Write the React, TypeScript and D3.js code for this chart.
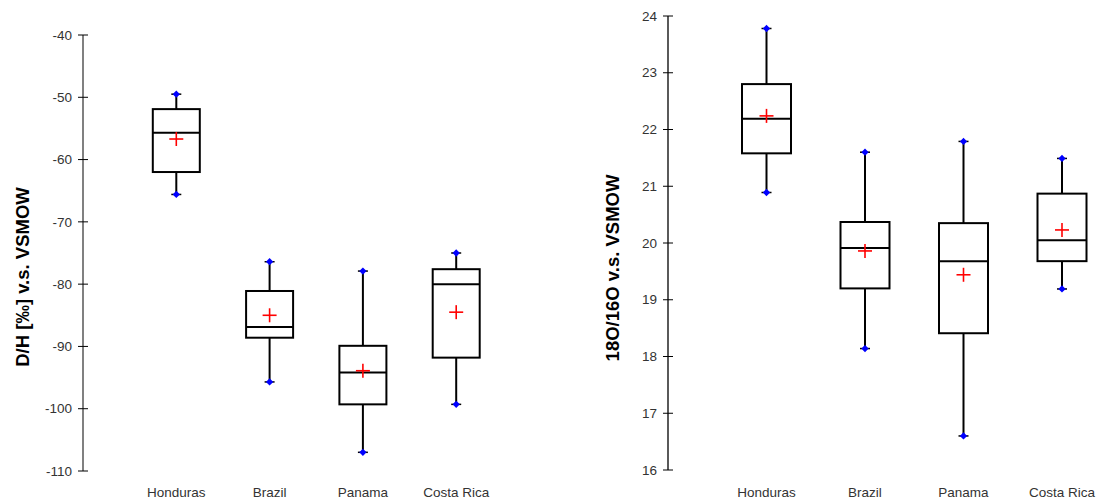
import React from "react";
import * as d3 from "d3";

const categories = ["Honduras", "Brazil", "Panama", "Costa Rica"];

// D/H chart
const dhMin = [-65.6, -95.7, -107.0, -99.3];
const dhQ1 = [-62.0, -88.6, -99.3, -91.8];
const dhMedian = [-55.7, -86.9, -94.2, -80.0];
const dhQ3 = [-51.9, -81.1, -89.9, -77.6];
const dhMax = [-49.5, -76.4, -77.9, -75.0];
const dhMean = [-56.7, -85.0, -93.9, -84.5];
const dhTicks = [-40, -50, -60, -70, -80, -90, -100, -110];

// 18O/16O chart
const oMin = [20.89, 18.14, 16.6, 19.19];
const oQ1 = [21.58, 19.2, 18.41, 19.68];
const oMedian = [22.19, 19.91, 19.68, 20.05];
const oQ3 = [22.8, 20.37, 20.35, 20.87];
const oMax = [23.78, 21.6, 21.79, 21.49];
const oMean = [22.24, 19.86, 19.44, 20.23];
const oTicks = [16, 17, 18, 19, 20, 21, 22, 23, 24];

const FONT = "Arial, 'Liberation Sans', sans-serif";

type PanelProps = {
  x0: number;
  step: number;
  yTop: number;
  yBottom: number;
  domain: [number, number];
  ticks: number[];
  mins: number[];
  q1: number[];
  med: number[];
  q3: number[];
  maxs: number[];
  means: number[];
  boxW: number;
  axisColor: string;
  axisWidth: number;
  title: string;
  titleX: number;
  titleY: number;
};

function Panel(p: PanelProps) {
  const y = d3.scaleLinear().domain(p.domain).range([p.yBottom, p.yTop]);
  const x = d3
    .scalePoint<string>()
    .domain(categories)
    .range([p.x0 + p.step, p.x0 + p.step * categories.length]);
  const diamond = d3.symbol().type(d3.symbolDiamond2).size(34)();
  return (
    <g>
      <line x1={p.x0} x2={p.x0} y1={y(p.domain[0])} y2={y(p.domain[1])} stroke={p.axisColor} strokeWidth={p.axisWidth} />
      {p.ticks.map((t) => (
        <g key={t} transform={`translate(0,${y(t)})`}>
          <line x1={p.x0 - 5} x2={p.x0 + 5} stroke="#000" strokeWidth={1} />
          <text x={p.x0 - 11} dy="0.35em" textAnchor="end" fontSize={13.5} fill="#333" fontFamily={FONT}>
            {t}
          </text>
        </g>
      ))}
      {categories.map((c, i) => {
        const cx = x(c)!;
        return (
          <g key={c}>
            <line x1={cx} x2={cx} y1={y(p.maxs[i])} y2={y(p.q3[i])} stroke="#000" strokeWidth={2} />
            <line x1={cx} x2={cx} y1={y(p.q1[i])} y2={y(p.mins[i])} stroke="#000" strokeWidth={2} />
            <rect x={cx - p.boxW / 2} y={y(p.q3[i])} width={p.boxW} height={y(p.q1[i]) - y(p.q3[i])} fill="#fff" stroke="#000" strokeWidth={2} />
            <line x1={cx - p.boxW / 2} x2={cx + p.boxW / 2} y1={y(p.med[i])} y2={y(p.med[i])} stroke="#000" strokeWidth={2} />
            {[p.maxs[i], p.mins[i]].map((v, k) => (
              <g key={k} transform={`translate(${cx},${y(v)})`}>
                <line x1={-5} x2={5} stroke="#000" strokeWidth={1.5} />
                <path d={diamond!} fill="#0000ff" />
              </g>
            ))}
            <g transform={`translate(${cx},${y(p.means[i])})`}>
              <line x1={-7} x2={7} stroke="#ff0000" strokeWidth={1.6} />
              <line y1={-7} y2={7} stroke="#ff0000" strokeWidth={1.6} />
            </g>
            <text x={cx} y={497} textAnchor="middle" fontSize={13.5} fill="#333" fontFamily={FONT}>
              {c}
            </text>
          </g>
        );
      })}
      <text
        transform={`translate(${p.titleX},${p.titleY}) rotate(-90)`}
        textAnchor="middle"
        fontSize={18.5}
        fontWeight="bold"
        fill="#000"
        fontFamily={FONT}
      >
        {p.title}
      </text>
    </g>
  );
}

export default function App() {
  return (
    <svg width={1099} height={502} style={{ position: "absolute", left: 0, top: 0, background: "#fff" }}>
      <rect width={1099} height={502} fill="#fff" />
      <Panel
        x0={83}
        step={93.3}
        yTop={35}
        yBottom={471}
        domain={[-110, -40]}
        ticks={dhTicks}
        mins={dhMin}
        q1={dhQ1}
        med={dhMedian}
        q3={dhQ3}
        maxs={dhMax}
        means={dhMean}
        boxW={47}
        axisColor="#808080"
        axisWidth={2}
        title="D/H [‰] v.s. VSMOW"
        titleX={29}
        titleY={277}
      />
      <Panel
        x0={668}
        step={98.5}
        yTop={16}
        yBottom={470}
        domain={[16, 24]}
        ticks={oTicks}
        mins={oMin}
        q1={oQ1}
        med={oMedian}
        q3={oQ3}
        maxs={oMax}
        means={oMean}
        boxW={49}
        axisColor="#000"
        axisWidth={1.3}
        title="18O/16O v.s. VSMOW"
        titleX={619}
        titleY={268}
      />
    </svg>
  );
}
